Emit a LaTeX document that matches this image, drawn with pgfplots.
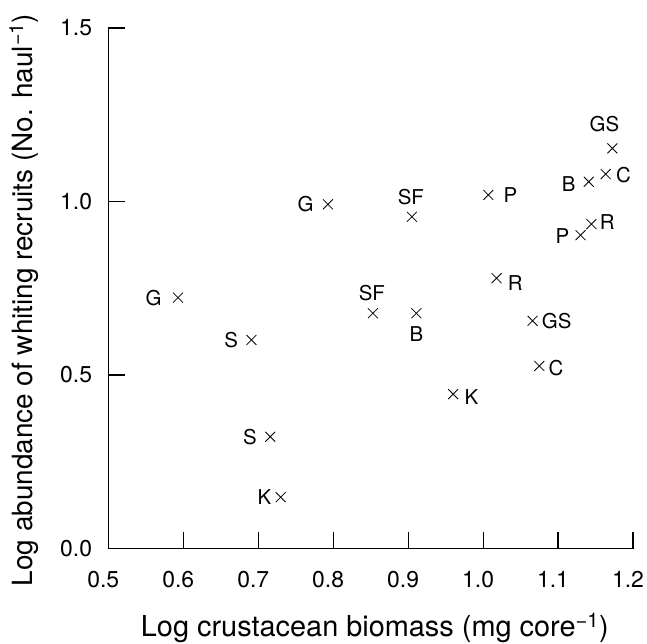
\documentclass[border=0pt]{standalone}
\usepackage{pgfplots}
\pgfplotsset{compat=1.18}
\usepackage{fontspec}
\setmainfont{TeX Gyre Heros}

\begin{document}
\begin{tikzpicture}
\begin{axis}[
  name=ax,
  scale only axis,
  width=524.7bp, height=520.5bp,
  xmin=0.5, xmax=1.2, ymin=0, ymax=1.5,
  axis x line=bottom, axis y line=left,
  axis line style={-, line width=1.1bp},
  every tick/.style={line width=1.1bp, black},
  tick align=inside,
  major tick length=16.7bp,
  xtick={0.5,0.6,0.7,0.8,0.9,1.0,1.1,1.2},
  xticklabels={0.5,0.6,0.7,0.8,0.9,1.0,1.1,1.2},
  ytick={0,0.5,1.0,1.5},
  yticklabels={0.0,0.5,1.0,1.5},
  tick label style={font=\fontsize{23}{26}\selectfont},
  xticklabel style={anchor=base, inner sep=0pt, yshift=-38.5bp, xshift=-5bp},
  yticklabel style={anchor=east, inner sep=0pt, xshift=-16bp},
  xlabel={Log crustacean biomass (mg core\textsuperscript{−1})},
  ylabel={Log abundance of whiting recruits (No. haul\textsuperscript{−1})},
  xlabel style={at={(axis description cs:0.508,-0.1695)}, anchor=base, inner sep=0pt, font=\fontsize{29}{32}\selectfont},
  ylabel style={at={(axis description cs:-0.1454,0.4774)}, anchor=base, inner sep=0pt, font=\fontsize{28}{31}\selectfont},
  clip=false,
]
\addplot[only marks, mark=x, mark size=7bp, mark options={line width=0.8bp}, black,
  point meta=explicit symbolic,
  visualization depends on={value \thisrow{anc}\as\anc},
  visualization depends on={value \thisrow{dx}\as\dx},
  visualization depends on={value \thisrow{dy}\as\dy},
  nodes near coords,
  every node near coord/.append style={anchor=\anc, xshift=\dx bp, yshift=\dy bp, inner sep=0pt, font=\fontsize{20.5}{22}\selectfont},
] table[meta=lab] {
x      y      lab anc   dx   dy
0.593  0.723  G   east  -16  0
0.793  0.992  G   east  -14  0
0.691  0.601  S   east  -13  0
0.716  0.322  S   east  -13  0
0.730  0.148  K   east  -9   0
0.853  0.678  SF  south -1   12
0.911  0.678  B   north 0    -13
0.905  0.956  SF  south -1   11
1.007  1.019  P   west  15   0
1.018  0.779  R   west  11   -5
0.960  0.445  K   west  11   -3
1.066  0.656  GS  west  9    0
1.075  0.526  C   west  9    -2
1.1725 1.153  GS  south -8   16
1.1636 1.079  C   west  10   -1
1.141  1.057  B   east  -13  -2
1.1445 0.935  R   west  8    2
1.130  0.903  P   east  -11  -1
};
\end{axis}
\pgfresetboundingbox
\path[use as bounding box] (ax.south west) ++(-108.3bp,-95.5bp) rectangle ++(647bp,644bp);
\end{tikzpicture}
\end{document}
